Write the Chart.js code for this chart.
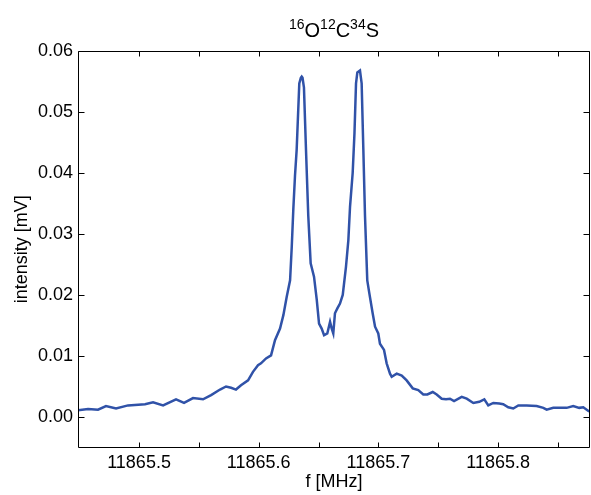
<!DOCTYPE html>
<html>
<head>
<meta charset="utf-8">
<script src="https://cdn.jsdelivr.net/npm/chart.js@4.4.1/dist/chart.umd.min.js"></script>
<style>
  html, body { margin: 0; padding: 0; background: #ffffff; }
  #wrap { width: 591px; height: 495px; }
</style>
</head>
<body>
<div id="wrap"><canvas id="c" width="591" height="495"></canvas></div>
<script>
// ---- data ----
const freqMHz = [
  11865.4490, 11865.4574, 11865.4657, 11865.4724, 11865.4808, 11865.4908, 11865.5050, 11865.5117,
  11865.5201, 11865.5309, 11865.5376, 11865.5451, 11865.5535, 11865.5602, 11865.5677, 11865.5727,
  11865.5769, 11865.5810, 11865.5852, 11865.5911, 11865.5952, 11865.5994, 11865.6019, 11865.6061,
  11865.6103, 11865.6136, 11865.6178, 11865.6206, 11865.6234, 11865.6262, 11865.6276, 11865.6289,
  11865.6303, 11865.6317, 11865.6339, 11865.6352, 11865.6359, 11865.6366, 11865.6378, 11865.6395,
  11865.6414, 11865.6434, 11865.6462, 11865.6485, 11865.6504, 11865.6526, 11865.6546, 11865.6573,
  11865.6596, 11865.6610, 11865.6623, 11865.6637, 11865.6657, 11865.6679, 11865.6702, 11865.6729,
  11865.6749, 11865.6763, 11865.6785, 11865.6800, 11865.6813, 11865.6824, 11865.6846, 11865.6860,
  11865.6874, 11865.6888, 11865.6907, 11865.6924, 11865.6952, 11865.6972, 11865.6999, 11865.7013,
  11865.7047, 11865.7069, 11865.7097, 11865.7111, 11865.7153, 11865.7195, 11865.7236, 11865.7287,
  11865.7333, 11865.7375, 11865.7409, 11865.7454, 11865.7487, 11865.7529, 11865.7565, 11865.7598,
  11865.7632, 11865.7696, 11865.7738, 11865.7793, 11865.7843, 11865.7885, 11865.7918, 11865.7960,
  11865.8010, 11865.8043, 11865.8085, 11865.8127, 11865.8169, 11865.8239, 11865.8322, 11865.8378,
  11865.8406, 11865.8461, 11865.8517, 11865.8573, 11865.8628, 11865.8678, 11865.8712, 11865.8754,
  11865.8768
];
const intensityMV = [
  0.0011, 0.0013, 0.0012, 0.0018, 0.0014, 0.0019, 0.0021, 0.0024,
  0.0019, 0.0029, 0.0023, 0.0031, 0.0029, 0.0036, 0.0045, 0.0050,
  0.0048, 0.0045, 0.0052, 0.0060, 0.0074, 0.0085, 0.0088, 0.0096,
  0.0101, 0.0126, 0.0145, 0.0167, 0.0197, 0.0224, 0.0279, 0.0340,
  0.0395, 0.0438, 0.0547, 0.0556, 0.0558, 0.0556, 0.0540, 0.0438,
  0.0330, 0.0252, 0.0230, 0.0192, 0.0153, 0.0145, 0.0134, 0.0137,
  0.0156, 0.0145, 0.0137, 0.0170, 0.0178, 0.0186, 0.0200, 0.0246,
  0.0290, 0.0345, 0.0400, 0.0465, 0.0547, 0.0565, 0.0568, 0.0547,
  0.0440, 0.0330, 0.0224, 0.0203, 0.0170, 0.0148, 0.0137, 0.0120,
  0.0110, 0.0088, 0.0071, 0.0066, 0.0071, 0.0068, 0.0060, 0.0047,
  0.0044, 0.0037, 0.0037, 0.0041, 0.0037, 0.0030, 0.0029, 0.0030,
  0.0026, 0.0033, 0.0030, 0.0023, 0.0025, 0.0029, 0.0019, 0.0023,
  0.0022, 0.0021, 0.0016, 0.0014, 0.0019, 0.0019, 0.0018, 0.0015,
  0.0012, 0.0015, 0.0015, 0.0015, 0.0018, 0.0015, 0.0016, 0.0010,
  0.0009
];
const xTickValues = [11865.5, 11865.55, 11865.6, 11865.65, 11865.7, 11865.75, 11865.8, 11865.85];
const yTickValues = [0.00, 0.01, 0.02, 0.03, 0.04, 0.05, 0.06];
const titleParts = [["16", true], ["O", false], ["12", true], ["C", false], ["34", true], ["S", false]];
const xTitle = "f [MHz]";
const yTitle = "intensity [mV]";

const FONT = "'Liberation Sans', Arial, sans-serif";

const framePlugin = {
  id: 'frame',
  afterDraw(chart) {
    const ctx = chart.ctx;
    const a = chart.chartArea;
    const xs = chart.scales.x, ys = chart.scales.y;
    ctx.save();
    ctx.strokeStyle = '#000000';
    ctx.lineWidth = 1;
    const L = Math.round(a.left) + 0.5, R = Math.round(a.right) - 0.5;
    const T = Math.round(a.top) + 0.5, B = Math.round(a.bottom) - 0.5;
    ctx.beginPath();
    ctx.rect(L, T, R - L, B - T);
    ctx.stroke();
    ctx.beginPath();
    xTickValues.forEach(v => {
      const px = Math.round(xs.getPixelForValue(v)) + 0.5;
      ctx.moveTo(px, B); ctx.lineTo(px, B - 5);
      ctx.moveTo(px, T); ctx.lineTo(px, T + 5);
    });
    yTickValues.forEach(v => {
      const py = Math.round(ys.getPixelForValue(v)) + 0.5;
      ctx.moveTo(L, py); ctx.lineTo(L + 6, py);
      ctx.moveTo(R, py); ctx.lineTo(R - 6, py);
    });
    ctx.stroke();
    // title with superscripts
    const big = "20px " + FONT, small = "14px " + FONT;
    let total = 0;
    titleParts.forEach(([t, sup]) => { ctx.font = sup ? small : big; total += ctx.measureText(t).width; });
    let x = (a.left + a.right) / 2 - total / 2;
    const base = 37;
    ctx.fillStyle = '#000000';
    ctx.textBaseline = 'alphabetic';
    ctx.textAlign = 'left';
    titleParts.forEach(([t, sup]) => {
      ctx.font = sup ? small : big;
      ctx.fillText(t, x, sup ? base - 8 : base);
      x += ctx.measureText(t).width;
    });
    ctx.restore();
  }
};

const points = freqMHz.map((f, i) => ({ x: f, y: intensityMV[i] }));

new Chart(document.getElementById('c'), {
  type: 'line',
  data: {
    datasets: [{
      data: points,
      borderColor: '#3052a8',
      borderWidth: 2.5,
      pointRadius: 0,
      tension: 0,
      fill: false
    }]
  },
  options: {
    responsive: false,
    devicePixelRatio: 1,
    animation: false,
    layout: { padding: { top: 51, right: 1, left: 0, bottom: 0 } },
    plugins: { legend: { display: false }, title: { display: false }, tooltip: { enabled: false } },
    scales: {
      x: {
        type: 'linear',
        min: 11865.449,
        max: 11865.8768,
        afterBuildTicks: s => { s.ticks = xTickValues.map(v => ({ value: v })); },
        afterFit: s => { s.height = 47.5; },
        grid: { display: false, drawTicks: false },
        border: { display: false },
        ticks: {
          autoSkip: false,
          maxRotation: 0,
          padding: 5,
          color: '#000000',
          font: { family: FONT, size: 18 },
          callback: v => (Math.abs(Math.round(v * 10) - v * 10) < 1e-6) ? v.toFixed(1) : ''
        },
        title: { display: true, text: xTitle, color: '#000000', font: { family: FONT, size: 18 }, padding: { top: 0, bottom: 2 } }
      },
      y: {
        type: 'linear',
        min: -0.005,
        max: 0.06,
        afterBuildTicks: s => { s.ticks = yTickValues.map(v => ({ value: v })); },
        afterFit: s => { s.width = 78; },
        grid: { display: false, drawTicks: false },
        border: { display: false },
        ticks: {
          padding: 5,
          color: '#000000',
          font: { family: FONT, size: 18 },
          callback: v => v.toFixed(2)
        },
        title: { display: true, text: yTitle, color: '#000000', font: { family: FONT, size: 18 }, padding: { top: 11, bottom: 0 } }
      }
    }
  },
  plugins: [framePlugin]
});
</script>
</body>
</html>
